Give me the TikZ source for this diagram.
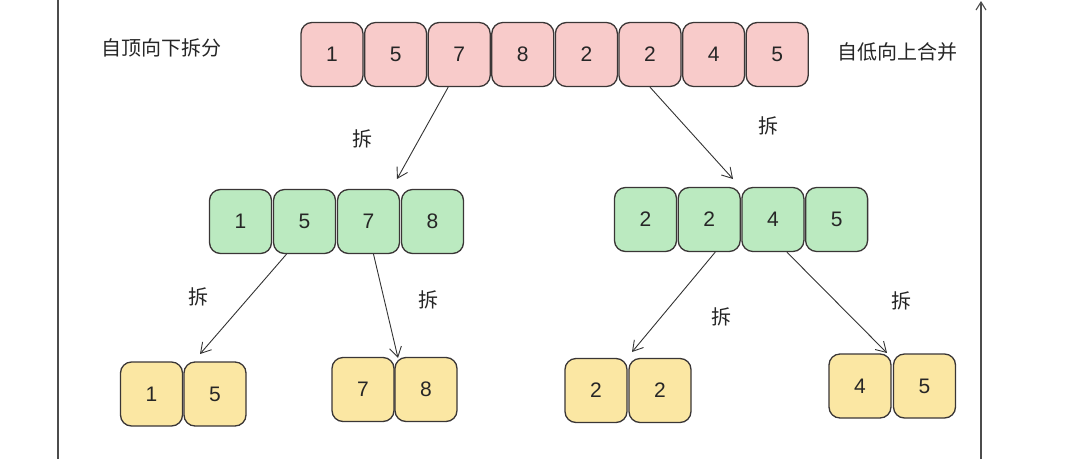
\documentclass[tikz,border=0pt]{standalone}
\usepackage{fontspec}
\setmainfont{Liberation Sans}
\newfontfamily\cjk{Noto Sans CJK SC}
\usetikzlibrary{arrows.meta}
\definecolor{pinkfill}{HTML}{F8CBCA}
\definecolor{greenfill}{HTML}{BBEAC0}
\definecolor{yellowfill}{HTML}{FBE7A3}
\definecolor{boxline}{HTML}{3A3636}
\definecolor{arrowline}{HTML}{333333}
\tikzset{
  cell/.style={draw=boxline, line width=1.3pt, rounded corners=11pt,
    minimum width=62pt, minimum height=64pt, inner sep=0pt,
    font=\fontsize{21}{21}\selectfont, text=black!85},
  pinkcell/.style={cell, fill=pinkfill},
  greencell/.style={cell, fill=greenfill},
  yellowcell/.style={cell, fill=yellowfill},
  arr/.style={draw=arrowline, line width=0.9pt, -{Straight Barb[length=10pt,width=12pt]}},
  lbl/.style={font=\cjk\fontsize{20}{20}\selectfont, text=black!85, inner sep=0pt},
  frameline/.style={draw=black!70, line width=1.1pt}
}
\begin{document}
\begin{tikzpicture}[x=1pt,y=-1pt]
\useasboundingbox (0,0) rectangle (1080,459);
% frame lines
\coordinate (lt) at (58,0);
\coordinate (lb) at (58,459);
\coordinate (rt) at (981,1);
\coordinate (rb) at (981,459);
\draw[frameline] (lt) -- (lb);
\draw[frameline, -{Straight Barb[length=8pt,width=10pt]}] (rb) -- (rt);
% top row
\foreach \v [count=\i] in {1,5,7,8,2,2,4,5} {
  \node[pinkcell] (t\i) at ({332+(\i-1)*63.6},54.5) {\v};
}
% green rows
\foreach \v [count=\i] in {1,5,7,8} {
  \node[greencell] (gl\i) at ({240.5+(\i-1)*64},221.5) {\v};
}
\foreach \v [count=\i] in {2,2,4,5} {
  \node[greencell] (gr\i) at ({645.5+(\i-1)*63.7},219.5) {\v};
}
% yellow pairs
\node[yellowcell] (ya1) at (151.5,394) {1};
\node[yellowcell] (ya2) at (215,394) {5};
\node[yellowcell] (yb1) at (363,389.5) {7};
\node[yellowcell] (yb2) at (426,389.5) {8};
\node[yellowcell] (yc1) at (596,390.5) {2};
\node[yellowcell] (yc2) at (660,390.5) {2};
\node[yellowcell] (yd1) at (860,386) {4};
\node[yellowcell] (yd2) at (924.5,386) {5};
% arrow ends
\coordinate (e1) at (397,179);
\coordinate (e2) at (733,179);
\coordinate (e3) at (200,354);
\coordinate (e4) at (398,358);
\coordinate (e5) at (632,352);
\coordinate (e6) at (887,353);
\draw[arr] ([xshift=-11pt]t3.south) -- (e1);
\draw[arr] (t6.south) -- (e2);
\draw[arr] ([xshift=-18pt]gl2.south) -- (e3);
\draw[arr] ([xshift=5pt]gl3.south) -- (e4);
\draw[arr] ([xshift=6pt]gr2.south) -- (e5);
\draw[arr] ([xshift=14pt]gr3.south) -- (e6);
% labels
\node[lbl] (lhead) at (161,48) {自顶向下拆分};
\node[lbl] (rhead) at (897,52) {自低向上合并};
\node[lbl] (s1) at (362,139) {拆};
\node[lbl] (s2) at (768,126) {拆};
\node[lbl] (s3) at (198,297) {拆};
\node[lbl] (s4) at (428,300) {拆};
\node[lbl] (s5) at (721,317) {拆};
\node[lbl] (s6) at (901,301) {拆};
\end{tikzpicture}
\end{document}
